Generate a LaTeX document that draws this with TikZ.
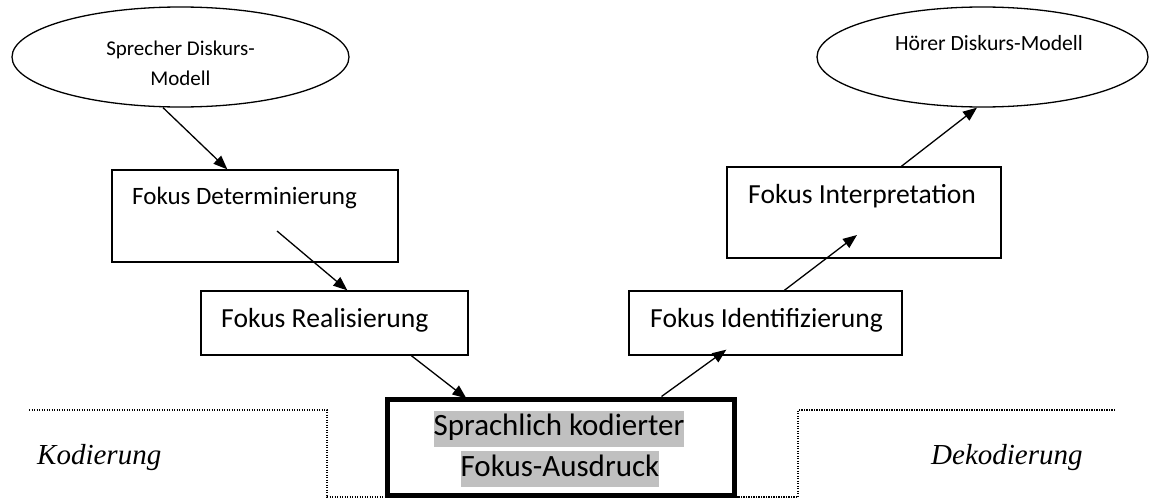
\documentclass[tikz,border=0pt]{standalone}
\usepackage{fontspec}
\setmainfont{Liberation Serif}
\newfontfamily\boxfont{Carlito}
\usetikzlibrary{shapes.geometric,arrows.meta,calc}
\definecolor{hl}{HTML}{C0C0C0}
\newcommand{\hlbox}[1]{{\setlength{\fboxsep}{0pt}\colorbox{hl}{\strut #1}}}
\begin{document}
\begin{tikzpicture}[x=1pt,y=-1pt,
  model/.style={draw, ellipse, line width=1.3pt, inner sep=0pt},
  stepbox/.style={draw, rectangle, line width=1.3pt, inner sep=0pt},
  label/.style={inner sep=0pt, font=\boxfont},
  flow/.style={line width=1.3pt, -{Triangle[length=14pt,width=11pt]}},
  region/.style={line width=1.2pt, dash pattern=on 1.2pt off 1.3pt},
  side/.style={inner sep=0pt, font=\fontsize{29}{33}\selectfont\itshape}]
\useasboundingbox (0,0) rectangle (1149,498);

% discourse models
\node[model, minimum width=337pt, minimum height=100pt] (sp) at (180.5,57) {};
\node[label, font=\boxfont\fontsize{21}{30}\selectfont, align=center] (sptxt) at (180.5,63)
  {Sprecher Diskurs-\\Modell};
\node[model, minimum width=331pt, minimum height=100pt] (hm) at (982.5,57) {};
\node[label, font=\boxfont\fontsize{21.7}{25}\selectfont] (hmtxt) at (989,43) {Hörer Diskurs-Modell};

% processing steps
\node[stepbox, minimum width=286pt, minimum height=92pt] (fd) at (255,216) {};
\node[label, font=\boxfont\fontsize{25}{28}\selectfont, anchor=west] (fdtxt) at (132,198) {Fokus Determinierung};
\node[stepbox, minimum width=267pt, minimum height=64pt] (fr) at (334.5,323) {};
\node[label, font=\boxfont\fontsize{27.6}{30}\selectfont, anchor=west] (frtxt) at (221,320) {Fokus Realisierung};
\node[stepbox, minimum width=273pt, minimum height=64pt] (fid) at (765.5,323) {};
\node[label, font=\boxfont\fontsize{27.6}{30}\selectfont, anchor=west] (fidtxt) at (650,320) {Fokus Identifizierung};
\node[stepbox, minimum width=274pt, minimum height=91pt] (fi) at (864,212.5) {};
\node[label, font=\boxfont\fontsize{27.6}{30}\selectfont, anchor=west] (fitxt) at (748,196) {Fokus Interpretation};

% coded expression
\node[draw, rectangle, line width=5pt, minimum width=347pt, minimum height=96pt, inner sep=0pt] (ctr) at (560.5,447) {};
\node[label, font=\boxfont\fontsize{31}{36}\selectfont] (ctr1) at (559,428.5) {\hlbox{Sprachlich kodierter}};
\node[label, font=\boxfont\fontsize{31}{36}\selectfont] (ctr2) at (560,469) {\hlbox{Fokus-Ausdruck}};

% encoding / decoding regions
\coordinate (kl) at (29,410);
\coordinate (kc) at (327,410);
\coordinate (kb) at (327,497);
\coordinate (dr) at (1115,410);
\coordinate (dc) at (798,410);
\coordinate (db) at (798,497);
\draw[region] (kl) -- (kc) -- (kb) -- (kb -| ctr.west);
\draw[region] (dr) -- (dc) -- (db) -- (db -| ctr.east);
\node[side, anchor=base west] (kod) at (37,464) {Kodierung};
\node[side, anchor=base west] (dek) at (931,464) {Dekodierung};

% flow of the focus
\coordinate (fdin) at (277,231);
\coordinate (fiin) at (857,235);
\draw[flow] ($(sp.south)+(-17.5,0)$) -- ($(fd.north west)+(116,0)$);
\draw[flow] (fdin) -- ($(fr.north west)+(147,0)$);
\draw[flow] ($(fr.south west)+(211,0)$) -- ($(ctr.north west)+(82,2)$);
\draw[flow] ($(ctr.north west)+(277,0)$) -- ($(fid.south west)+(98,-6)$);
\draw[flow] ($(fid.north west)+(156,0)$) -- (fiin);
\draw[flow] ($(fi.north west)+(175,0)$) -- ($(hm.south)+(-5.5,0)$);
\end{tikzpicture}
\end{document}
